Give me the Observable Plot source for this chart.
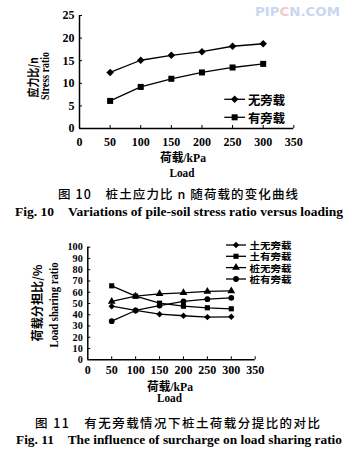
<!DOCTYPE html>
<html><head><meta charset="utf-8">
<script src="https://cdn.jsdelivr.net/npm/d3@7"></script>
<script src="https://cdn.jsdelivr.net/npm/@observablehq/plot@0.6"></script>
<style>
html,body{margin:0;padding:0;background:#fff;}
#page{position:relative;width:354px;height:451px;overflow:hidden;background:#fff;}
#page > svg{position:absolute;left:0;}
</style></head><body><div id="page"></div>
<script>
// ---------- data ----------
const loads = [50, 100, 150, 200, 250, 300];
const xTicks = [0, 50, 100, 150, 200, 250, 300, 350];

// Fig. 10 : pile-soil stress ratio
const legend1 = ["无旁载", "有旁载"];
const stressNoSurcharge = [12.4, 15.1, 16.2, 17.0, 18.2, 18.75];
const stressSurcharge = [6.1, 9.2, 11.0, 12.4, 13.5, 14.3];
const yTicks1 = [0, 5, 10, 15, 20, 25];

// Fig. 11 : load sharing ratio (%)
const legend2 = ["土无旁载", "土有旁载", "桩无旁载", "桩有旁载"];
const soilNoSurcharge = [47.6, 43.8, 40.5, 39.1, 37.9, 38.2];
const soilSurcharge = [65.7, 56.5, 50.3, 47.6, 46.2, 45.3];
const pileNoSurcharge = [51.8, 56.5, 58.6, 59.5, 60.7, 61.2];
const pileSurcharge = [34.3, 43.8, 48.2, 51.8, 53.8, 55.0];
const yTicks2 = [0, 10, 20, 30, 40, 50, 60, 70, 80, 90, 100];

// ---------- styles ----------
const serif = "'Liberation Serif','Times New Roman',serif";
const cjk = "'Noto Sans CJK SC','Noto Sans CJK JP',sans-serif";
const W = 354;
const page = document.getElementById("page");

function chart({top, height, mT, mB, mL, mR, yDomain, yTicks, names, values, symbols, r, padX, yFont}) {
  const rows = [];
  names.forEach((s, k) => loads.forEach((x, i) => rows.push({x, y: values[k][i], s})));
  const pw = W - mL - mR, ph = height - mT - mB;
  const p = Plot.plot({
    width: W, height,
    marginTop: mT, marginBottom: mB, marginLeft: mL, marginRight: mR,
    style: {fontFamily: serif, fontWeight: "bold", fontSize: "12px", color: "#000", background: "transparent", overflow: "visible"},
    x: {domain: [0, 350]},
    y: {domain: yDomain},
    symbol: {domain: names, range: symbols},
    marks: [
      Plot.axisX({ticks: xTicks, tickSize: 0, tickPadding: padX, label: null}),
      Plot.axisY({ticks: yTicks, tickSize: 0, tickPadding: 5, label: null, fontSize: yFont}),
      Plot.tickX(xTicks.slice(1), {x: d => d, insetTop: ph - 3, stroke: "#000", strokeWidth: 1}),
      Plot.tickY(yTicks.slice(1), {y: d => d, insetRight: pw - 3, stroke: "#000", strokeWidth: 1}),
      Plot.ruleX([0], {stroke: "#000", strokeWidth: 1.5}),
      Plot.ruleY([0], {stroke: "#000", strokeWidth: 1.5}),
      Plot.line(rows, {x: "x", y: "y", z: "s", stroke: "#000", strokeWidth: 1.3}),
      Plot.dot(rows, {x: "x", y: "y", symbol: "s", fill: "#000", stroke: "none", r})
    ]
  });
  p.style.top = top + "px";
  page.appendChild(p);
}

chart({top: 0, height: 150, mT: 15, mB: 22, mL: 79, mR: 60.7,
  yDomain: [0, 25], yTicks: yTicks1, names: legend1,
  values: [stressNoSurcharge, stressSurcharge], symbols: ["diamond2", "square"], r: 3.4, padX: 9, yFont: 12});

chart({top: 225, height: 150, mT: 21.7, mB: 15.7, mL: 87.3, mR: 99.3,
  yDomain: [0, 100], yTicks: yTicks2, names: legend2,
  values: [soilNoSurcharge, soilSurcharge, pileNoSurcharge, pileSurcharge],
  symbols: ["diamond2", "square", "triangle", "circle"], r: 2.9, padX: 6, yFont: 10.2});

// ---------- text overlay ----------
const svg = d3.select(page).append("svg")
  .attr("width", W).attr("height", 451)
  .style("top", "0px").style("pointer-events", "none");

function txt(s, x, y, {size = 12, family = serif, weight = "bold", len = null, rotate = false, anchor = "middle", adjust = "spacingAndGlyphs", fill = "#000"} = {}) {
  const t = svg.append("text")
    .attr("transform", `translate(${x},${y})` + (rotate ? " rotate(-90)" : ""))
    .attr("text-anchor", anchor)
    .attr("dominant-baseline", "central")
    .attr("font-family", family)
    .attr("font-weight", weight)
    .attr("font-size", size)
    .attr("fill", fill)
    .text(s);
  if (len) t.attr("textLength", len).attr("lengthAdjust", adjust);
  return t;
}

function legend(names, syms, r, x0, x1, xText, ys, size, len) {
  names.forEach((n, i) => {
    const y = ys[i];
    svg.append("line").attr("x1", x0).attr("x2", x1).attr("y1", y).attr("y2", y)
      .attr("stroke", "#000").attr("stroke-width", 1.3);
    svg.append("path")
      .attr("d", d3.symbol(syms[i], Math.PI * r * r)())
      .attr("transform", `translate(${(x0 + x1) / 2},${y})`)
      .attr("fill", "#000");
    txt(n, xText, y, {size, family: cjk, anchor: "start", len});
  });
}

// watermark
const wm = svg.append("text").attr("x", 255).attr("y", 11).attr("dominant-baseline", "central")
  .attr("font-family", "'DejaVu Sans',sans-serif").attr("font-weight", "bold").attr("font-size", 13)
  .attr("textLength", 85).attr("lengthAdjust", "spacingAndGlyphs");
wm.append("tspan").attr("fill", "#c9d8ee").text("PIP");
wm.append("tspan").attr("fill", "#f1c9c9").text("C");
wm.append("tspan").attr("fill", "#c9d8ee").text("N.COM");

// Fig 10 texts
txt("应力比/n", 32, 77.5, {size: 12.5, family: cjk, rotate: true, len: 40});
txt("Stress ratio", 44.5, 76, {size: 12.5, rotate: true, len: 48});
legend(legend1, [d3.symbolDiamond2, d3.symbolSquare], 3.4, 224.3, 245, 248, [99.3, 117.3], 12.5, 37);
txt("荷载/kPa", 183, 158, {size: 12, family: serif + "," + cjk, len: 46});
txt("Load", 182, 173, {size: 12, len: 25});
txt("图 10　桩土应力比 n 随荷载的变化曲线", 178, 193, {size: 12.5, family: cjk, weight: 500, len: 240, adjust: "spacing"});
txt("Fig. 10　Variations of pile-soil stress ratio versus loading", 179, 212, {size: 12.5, len: 328});

// Fig 11 texts
txt("荷载分担比/%", 36.5, 303, {size: 12, family: cjk, rotate: true, len: 77});
txt("Load sharing ratio", 54, 305, {size: 12, rotate: true, len: 85});
legend(legend2, [d3.symbolDiamond2, d3.symbolSquare, d3.symbolTriangle, d3.symbolCircle], 2.9,
  226, 246, 249.5, [245, 256.3, 267.6, 279], 9.5, 42);
txt("荷载/kPa", 170, 387, {size: 12, family: serif + "," + cjk, len: 46});
txt("Load", 169.5, 398, {size: 12, len: 25});
txt("图 11　有无旁载情况下桩土荷载分提比的对比", 177.5, 422, {size: 12.5, family: cjk, weight: 500, len: 285, adjust: "spacing"});
txt("Fig. 11　The influence of surcharge on load sharing ratio", 179, 440, {size: 12.5, len: 326});
</script></body></html>
